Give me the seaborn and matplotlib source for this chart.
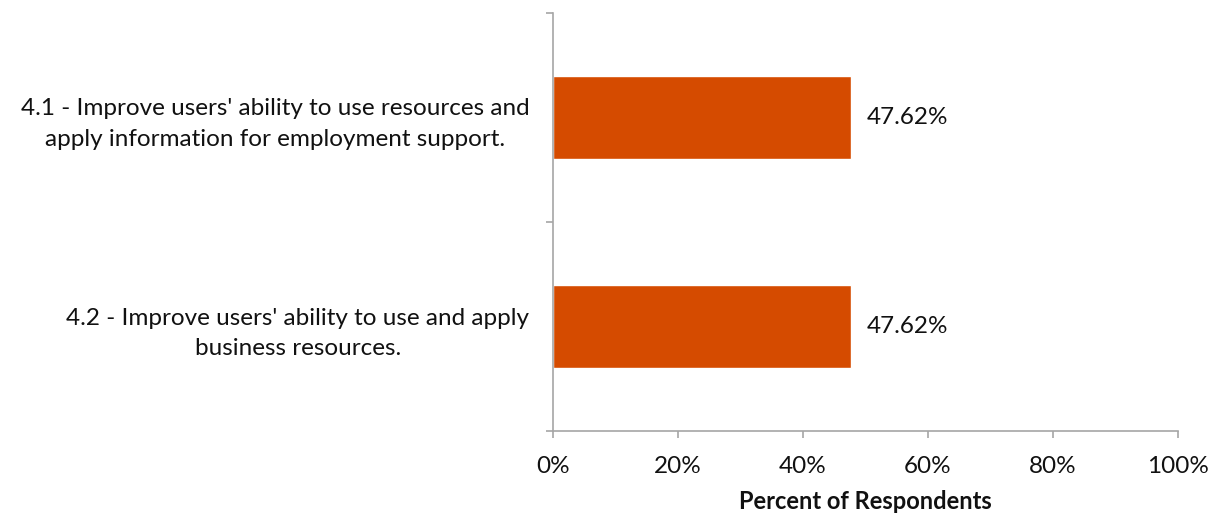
import pandas as pd
import numpy as np
import matplotlib
matplotlib.use('Agg')
import matplotlib.pyplot as plt
from matplotlib.ticker import FuncFormatter
import seaborn as sns

categories = ["4.1 - Improve users' ability to use resources and\napply information for employment support.",
              "4.2 - Improve users' ability to use and apply\nbusiness resources."]
percents = [47.62, 47.62]
x_ticks = [0, 20, 40, 60, 80, 100]

sns.set_theme(style='white')
plt.rcParams['font.family'] = ['Lato', 'DejaVu Sans']

df = pd.DataFrame({'category': categories, 'percent': percents})

fig = plt.figure(figsize=(12.18, 5.17), dpi=100)
ax = fig.add_axes([0.454, 0.1663, 0.513, 0.8086])

sns.barplot(data=df, x='percent', y='category', orient='h', color='#D54B00',
            saturation=1, width=0.4, ax=ax)

fs = 17.5

# 数值标签
for i, v in enumerate(df['percent']):
    ax.annotate(f'{v:.2f}%', xy=(v, i), xytext=(11.5, 0), textcoords='offset points',
                ha='left', va='center', fontsize=fs, color='#111111')

ax.set_xlim(0, 100)
ax.set_ylim(1.5, -0.5)
ax.set_xticks(x_ticks)
ax.xaxis.set_major_formatter(FuncFormatter(lambda x, pos: f'{x:.0f}%'))
ax.set_yticks([-0.5, 0.5, 1.5])
ax.set_yticklabels([])
ax.set_yticks(range(len(categories)), minor=True)
ax.set_yticklabels(df['category'], minor=True, ha='right', multialignment='center',
                   linespacing=1.55)
ax.tick_params(axis='y', which='minor', length=0, pad=17, labelsize=fs, labelcolor='#111111')
ax.tick_params(axis='y', which='major', length=5, width=1.2, color='#A6A6A6', direction='out', left=True)
ax.tick_params(axis='x', length=5, width=1.2, color='#A6A6A6', direction='out', bottom=True,
               labelsize=fs, labelcolor='#111111', pad=13)

for s in ['top', 'right']:
    ax.spines[s].set_visible(False)
for s in ['left', 'bottom']:
    ax.spines[s].set_color('#A6A6A6')
    ax.spines[s].set_linewidth(1.2)

ax.set_ylabel('')
ax.set_xlabel('Percent of Respondents', fontsize=17, fontweight='bold', labelpad=9, color='#111111')

fig.savefig('out.png', dpi=100)
